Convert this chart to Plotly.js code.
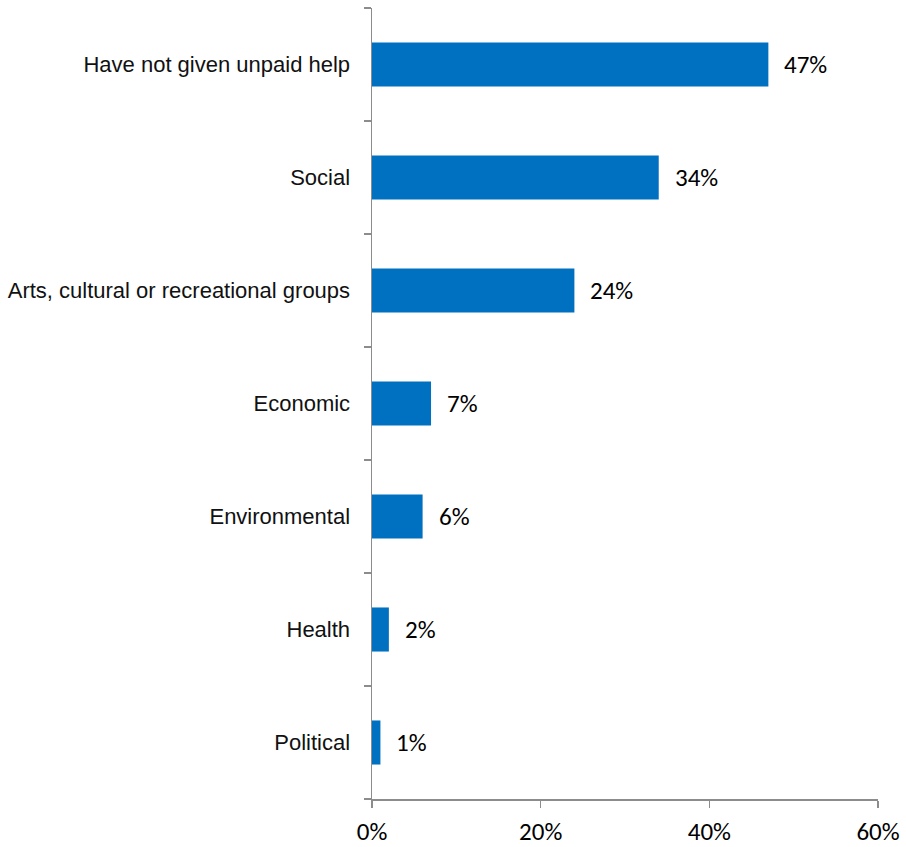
<!DOCTYPE html>
<html>
<head>
<meta charset="utf-8">
<script src="https://cdn.plot.ly/plotly-3.0.1.min.js"></script>
<style>html,body{margin:0;padding:0;background:#fff;}#chart{width:906px;height:847px;}</style>
</head>
<body>
<div id="chart"></div>
<script>
var categories = ["Have not given unpaid help", "Social", "Arts, cultural or recreational groups", "Economic", "Environmental", "Health", "Political"];
var values = [47, 34, 24, 7, 6, 2, 1];
var valueLabels = ["47%", "34%", "24%", "7%", "6%", "2%", "1%"];
var xTickVals = [0, 20, 40, 60];
var xTickText = ["0%", "20%", "40%", "60%"];

var cats = categories.slice().reverse();
var vals = values.slice().reverse();
var labs = valueLabels.slice().reverse();

var numFont = "Carlito, Lato, 'Open Sans', sans-serif";

var trace = {
  type: "bar",
  orientation: "h",
  y: cats,
  x: vals,
  marker: {color: "#0070C0"},
  width: 0.39,
  hoverinfo: "none"
};

var annotations = cats.map(function(c, i) {
  return {
    x: vals[i], y: c, xref: "x", yref: "y",
    text: labs[i], showarrow: false,
    xanchor: "left", yanchor: "middle", xshift: 14,
    font: {family: numFont, size: 25, color: "#000"}
  };
});

var layout = {
  width: 906, height: 847,
  margin: {l: 372, r: 28, t: 8, b: 48},
  paper_bgcolor: "#fff", plot_bgcolor: "#fff",
  showlegend: false,
  bargap: 0.61,
  xaxis: {
    range: [0, 60],
    tickvals: xTickVals, ticktext: xTickText,
    showgrid: false, zeroline: false,
    showline: true, linecolor: "#8c8c8c", linewidth: 1.5,
    ticks: "outside", ticklen: 7, tickcolor: "#8c8c8c", tickwidth: 1.5,
    ticklabelstandoff: 2,
    tickfont: {family: numFont, size: 25, color: "#000"},
    fixedrange: true
  },
  yaxis: {
    type: "category",
    categoryorder: "array", categoryarray: cats,
    showgrid: false, zeroline: false,
    showline: true, linecolor: "#8c8c8c", linewidth: 1.5,
    ticks: "outside", tickson: "boundaries", ticklen: 7, tickcolor: "#8c8c8c", tickwidth: 1.5,
    ticklabelstandoff: 16,
    tickfont: {family: "'Liberation Sans', Arial, sans-serif", size: 22, color: "#111"},
    fixedrange: true
  },
  annotations: annotations
};

Plotly.newPlot("chart", [trace], layout, {displayModeBar: false, staticPlot: true});
</script>
</body>
</html>
